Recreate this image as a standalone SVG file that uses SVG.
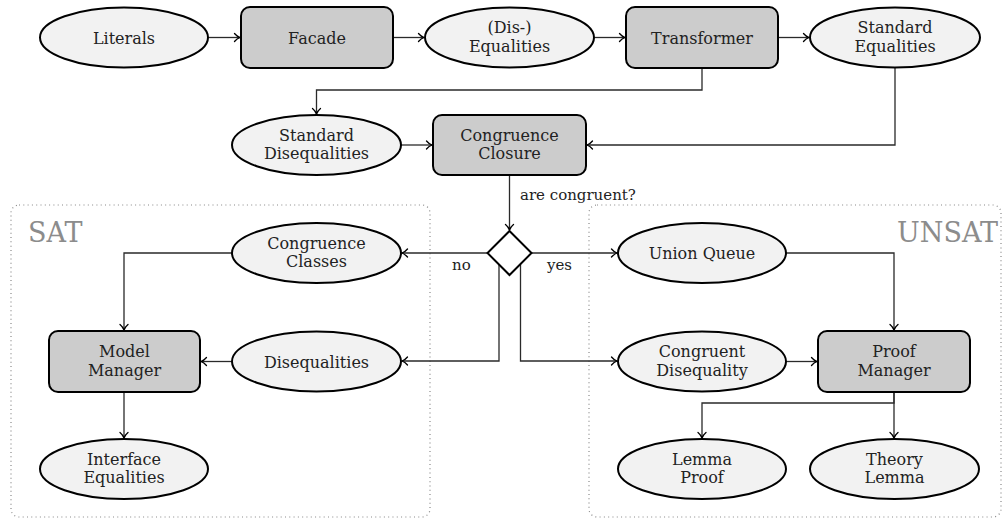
<svg xmlns="http://www.w3.org/2000/svg" width="1003" height="520" viewBox="0 0 1003 520">
  <defs>
    <style>
      .ell { fill: #f2f2f2; stroke: #000; stroke-width: 2; }
      .box { fill: #cccccc; stroke: #000; stroke-width: 2; }
      .dec { fill: #fff; stroke: #000; stroke-width: 2; }
      .lbl { font-family: "DejaVu Serif", "Liberation Serif", serif; font-size: 16px; fill: #222; text-anchor: middle; }
      .small { font-family: "DejaVu Serif", "Liberation Serif", serif; font-size: 15px; fill: #222; }
      .region { fill: none; stroke: #888; stroke-width: 1.2; stroke-dasharray: 1 3.3; }
      .title { font-family: "DejaVu Serif", "Liberation Serif", serif; font-size: 27px; fill: #8c8c8c; }
      .edge { fill: none; stroke: #2a2a2a; stroke-width: 1.3; marker-end: url(#to); }
    </style>
    <marker id="to" markerUnits="userSpaceOnUse" markerWidth="12" markerHeight="12" viewBox="-7 -6 8 12" refX="0" refY="0" orient="auto">
      <path d="M-5.5,-4 C-3.5,-1.6 -1.2,-0.4 0,0 C-1.2,0.4 -3.5,1.6 -5.5,4" fill="none" stroke="#000" stroke-width="1.3" stroke-linecap="round"/>
    </marker>
  </defs>

  <!-- dotted result regions -->
  <g id="region-sat">
    <rect class="region" x="11" y="205" width="419" height="312" rx="8"/>
    <text class="title" x="28" y="242">SAT</text>
  </g>
  <g id="region-unsat">
    <rect class="region" x="589" y="205" width="412" height="312" rx="8"/>
    <text class="title" x="998" y="242" text-anchor="end">UNSAT</text>
  </g>

  <!-- connectors -->
  <g id="connectors">
    <path class="edge" d="M208,37.5 H240"/>
    <path class="edge" d="M393,37.5 H424"/>
    <path class="edge" d="M594,37.5 H625"/>
    <path class="edge" d="M778,37.5 H809"/>
    <path class="edge" d="M702,68 V90 H316.5 V114"/>
    <path class="edge" d="M895,68 V145 H587"/>
    <path class="edge" d="M401,145 H432"/>
    <path class="edge" d="M509.5,175 V230"/>
    <path class="edge" d="M487.5,253 H402"/>
    <path class="edge" d="M499,264.5 V361 H402"/>
    <path class="edge" d="M531.5,253 H617"/>
    <path class="edge" d="M520.5,264 V361 H617"/>
    <path class="edge" d="M232,253 H124 V330"/>
    <path class="edge" d="M232,361.5 H201"/>
    <path class="edge" d="M124,392 V438"/>
    <path class="edge" d="M786,253 H894 V330"/>
    <path class="edge" d="M786,361.5 H817"/>
    <path class="edge" d="M894,392 V403 H702 V438"/>
    <path class="edge" d="M894,392 V438"/>
    <text class="small" x="520" y="200">are congruent?</text>
    <text class="small" x="452" y="270">no</text>
    <text class="small" x="547" y="270">yes</text>
  </g>

  <!-- top pipeline -->
  <g id="literals">
    <ellipse class="ell" cx="124" cy="37.5" rx="84" ry="30"/>
    <text class="lbl" x="124" y="43.5">Literals</text>
  </g>
  <g id="facade">
    <rect class="box" x="241" y="7" width="152" height="61" rx="9"/>
    <text class="lbl" x="317" y="43.5">Facade</text>
  </g>
  <g id="dis-equalities">
    <ellipse class="ell" cx="509.5" cy="37.5" rx="84.5" ry="30"/>
    <text class="lbl" x="509.5" y="33">(Dis-)</text>
    <text class="lbl" x="509.5" y="51.5">Equalities</text>
  </g>
  <g id="transformer">
    <rect class="box" x="626" y="7" width="152" height="61" rx="9"/>
    <text class="lbl" x="702" y="43.5">Transformer</text>
  </g>
  <g id="standard-equalities">
    <ellipse class="ell" cx="895" cy="37.5" rx="85" ry="30"/>
    <text class="lbl" x="895" y="33">Standard</text>
    <text class="lbl" x="895" y="51.5">Equalities</text>
  </g>
  <g id="standard-disequalities">
    <ellipse class="ell" cx="316.5" cy="145" rx="84.5" ry="30"/>
    <text class="lbl" x="316.5" y="140.5">Standard</text>
    <text class="lbl" x="316.5" y="159">Disequalities</text>
  </g>
  <g id="congruence-closure">
    <rect class="box" x="433" y="115" width="153" height="60" rx="9"/>
    <text class="lbl" x="509.5" y="140.5">Congruence</text>
    <text class="lbl" x="509.5" y="159">Closure</text>
  </g>
  <g id="decision">
    <polygon class="dec" points="509.5,231 531.5,253 509.5,275 487.5,253"/>
  </g>

  <!-- SAT side -->
  <g id="congruence-classes">
    <ellipse class="ell" cx="316.5" cy="253" rx="84.5" ry="30"/>
    <text class="lbl" x="316.5" y="248.5">Congruence</text>
    <text class="lbl" x="316.5" y="267">Classes</text>
  </g>
  <g id="disequalities">
    <ellipse class="ell" cx="316.5" cy="361.5" rx="84.5" ry="30"/>
    <text class="lbl" x="316.5" y="367.5">Disequalities</text>
  </g>
  <g id="model-manager">
    <rect class="box" x="49" y="331" width="151" height="61" rx="9"/>
    <text class="lbl" x="124.5" y="357">Model</text>
    <text class="lbl" x="124.5" y="375.5">Manager</text>
  </g>
  <g id="interface-equalities">
    <ellipse class="ell" cx="124" cy="469" rx="84" ry="30"/>
    <text class="lbl" x="124" y="464.5">Interface</text>
    <text class="lbl" x="124" y="483">Equalities</text>
  </g>

  <!-- UNSAT side -->
  <g id="union-queue">
    <ellipse class="ell" cx="702" cy="253" rx="84" ry="30"/>
    <text class="lbl" x="702" y="259">Union Queue</text>
  </g>
  <g id="congruent-disequality">
    <ellipse class="ell" cx="702" cy="361.5" rx="84" ry="30"/>
    <text class="lbl" x="702" y="357">Congruent</text>
    <text class="lbl" x="702" y="375.5">Disequality</text>
  </g>
  <g id="proof-manager">
    <rect class="box" x="818" y="331" width="152" height="61" rx="9"/>
    <text class="lbl" x="894" y="357">Proof</text>
    <text class="lbl" x="894" y="375.5">Manager</text>
  </g>
  <g id="lemma-proof">
    <ellipse class="ell" cx="702" cy="469" rx="84" ry="30"/>
    <text class="lbl" x="702" y="464.5">Lemma</text>
    <text class="lbl" x="702" y="483">Proof</text>
  </g>
  <g id="theory-lemma">
    <ellipse class="ell" cx="894.5" cy="469" rx="84.5" ry="30"/>
    <text class="lbl" x="894.5" y="464.5">Theory</text>
    <text class="lbl" x="894.5" y="483">Lemma</text>
  </g>
</svg>
